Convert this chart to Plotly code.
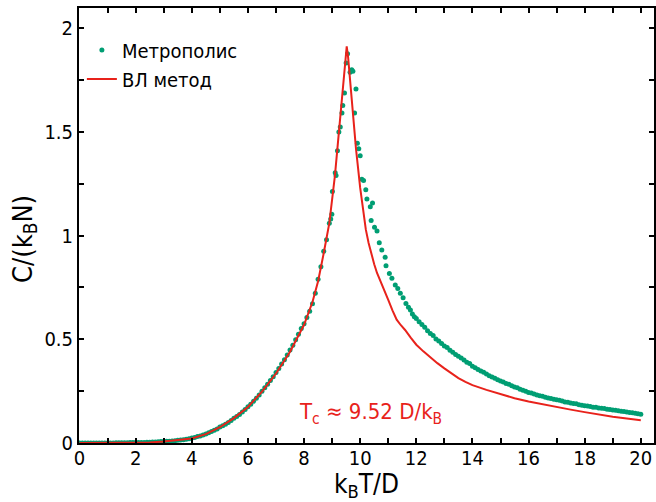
import plotly.graph_objects as go

# ВЛ метод (red line)
vl_T = [0, 1, 2, 2.5, 3, 3.5, 4, 4.5, 5, 5.5, 6, 6.5, 7, 7.5, 8, 8.3, 8.5, 8.7, 8.9,
        9.1, 9.25, 9.4, 9.47, 9.52, 9.57, 9.65, 9.75, 9.85, 10.0, 10.1, 10.2, 10.3,
        10.4, 10.5, 10.6, 10.8, 11.0, 11.15, 11.3, 11.45, 11.6, 11.8, 12.0, 12.25,
        12.5, 12.75, 13.0, 13.25, 13.5, 13.75, 14.0, 14.5, 15.0, 15.5, 16.0,
        16.5, 17.0, 17.5, 18.0, 18.5, 19.0, 19.5, 20.0]
vl_C = [0.0, 0.0, 0.001, 0.003, 0.007, 0.013, 0.022, 0.043, 0.076, 0.12, 0.174, 0.248,
        0.335, 0.44, 0.57, 0.68, 0.78, 0.915, 1.06, 1.29, 1.52, 1.74, 1.85, 1.913, 1.86,
        1.73, 1.56, 1.42, 1.23, 1.12, 1.03, 0.965, 0.91, 0.862, 0.82, 0.75, 0.69, 0.64,
        0.595, 0.568, 0.545, 0.508, 0.474, 0.442, 0.413, 0.385, 0.36, 0.335, 0.313,
        0.295, 0.279, 0.256, 0.236, 0.216, 0.2, 0.186, 0.173, 0.161, 0.149, 0.137,
        0.127, 0.118, 0.11]

# Метрополис (green dots)
mc_T = [0.0, 0.1, 0.2, 0.3, 0.4, 0.5, 0.6, 0.7, 0.8, 0.9,
        1.0, 1.1, 1.2, 1.3, 1.4, 1.5, 1.6, 1.7, 1.8, 1.9,
        2.0, 2.1, 2.2, 2.3, 2.4, 2.5, 2.6, 2.7, 2.8, 2.9,
        3.0, 3.1, 3.2, 3.3, 3.4, 3.5, 3.6, 3.7, 3.8, 3.9,
        4.0, 4.1, 4.2, 4.3, 4.4, 4.5, 4.6, 4.7, 4.8, 4.9,
        5.0, 5.1, 5.2, 5.3, 5.4, 5.5, 5.6, 5.7, 5.8, 5.9,
        6.0, 6.1, 6.2, 6.3, 6.4, 6.5, 6.6, 6.7, 6.8, 6.9,
        7.0, 7.1, 7.2, 7.3, 7.4, 7.5, 7.6, 7.7, 7.8, 7.9,
        8.0, 8.1, 8.2, 8.3, 8.4, 8.5, 8.6, 8.7, 8.8, 8.9,
        8.95, 8.99, 9.01, 9.11, 9.14, 9.19, 9.24, 9.29, 9.35, 9.38,
        9.44, 9.50, 9.55, 9.64, 9.70, 9.74, 9.80, 9.85, 9.90, 9.95,
        10.0, 10.06, 10.12, 10.2, 10.24, 10.36, 10.39, 10.44, 10.51, 10.6,
        10.68, 10.77, 10.89, 10.92, 11.04, 11.13, 11.25, 11.34, 11.43, 11.53,
        11.63, 11.72, 11.79, 11.86, 11.93,
        12.0, 12.1, 12.2, 12.3, 12.4, 12.5, 12.6, 12.7, 12.8, 12.9,
        13.0, 13.1, 13.2, 13.3, 13.4, 13.5, 13.6, 13.7, 13.8, 13.9,
        14.0, 14.1, 14.2, 14.3, 14.4, 14.5, 14.6, 14.7, 14.8, 14.9,
        15.0, 15.1, 15.2, 15.3, 15.4, 15.5, 15.6, 15.7, 15.8, 15.9,
        16.0, 16.1, 16.2, 16.3, 16.4, 16.5, 16.6, 16.7, 16.8, 16.9,
        17.0, 17.1, 17.2, 17.3, 17.4, 17.5, 17.6, 17.7, 17.8, 17.9,
        18.0, 18.1, 18.2, 18.3, 18.4, 18.5, 18.6, 18.7, 18.8, 18.9,
        19.0, 19.1, 19.2, 19.3, 19.4, 19.5, 19.6, 19.7, 19.8, 19.9,
        20.0]
mc_C = [0.000, 0.000, 0.000, 0.000, 0.000, 0.000, 0.000, 0.000, 0.000, 0.000,
        0.000, 0.000, 0.000, 0.001, 0.001, 0.001, 0.001, 0.001, 0.002, 0.002,
        0.002, 0.003, 0.003, 0.003, 0.004, 0.004, 0.005, 0.005, 0.006, 0.007,
        0.007, 0.008, 0.009, 0.010, 0.011, 0.013, 0.015, 0.016, 0.018, 0.021,
        0.024, 0.027, 0.031, 0.034, 0.039, 0.044, 0.049, 0.055, 0.061, 0.068,
        0.077, 0.083, 0.091, 0.099, 0.108, 0.119, 0.128, 0.138, 0.150, 0.161,
        0.175, 0.187, 0.201, 0.216, 0.232, 0.249, 0.266, 0.283, 0.301, 0.320,
        0.340, 0.359, 0.381, 0.402, 0.424, 0.449, 0.472, 0.498, 0.525, 0.552,
        0.575, 0.605, 0.635, 0.672, 0.722, 0.790, 0.850, 0.925, 0.980, 1.060,
        1.080, 1.103, 1.213, 1.304, 1.290, 1.409, 1.500, 1.524, 1.591, 1.628,
        1.688, 1.833, 1.877, 1.788, 1.800, 1.793, 1.591, 1.707, 1.446, 1.419,
        1.385, 1.272, 1.266, 1.221, 1.177, 1.140, 1.073, 1.157, 1.040, 1.023,
        0.966, 0.931, 0.896, 0.855, 0.818, 0.794, 0.762, 0.745, 0.722, 0.700,
        0.673, 0.655, 0.641, 0.622, 0.609,
        0.600, 0.585, 0.571, 0.558, 0.541, 0.528, 0.518, 0.502, 0.492, 0.480,
        0.468, 0.460, 0.447, 0.438, 0.427, 0.418, 0.410, 0.400, 0.390, 0.384,
        0.370, 0.363, 0.355, 0.347, 0.341, 0.333, 0.324, 0.318, 0.312, 0.305,
        0.299, 0.294, 0.287, 0.283, 0.276, 0.270, 0.266, 0.259, 0.255, 0.250,
        0.244, 0.241, 0.236, 0.232, 0.228, 0.226, 0.221, 0.217, 0.215, 0.211,
        0.208, 0.206, 0.202, 0.198, 0.197, 0.193, 0.190, 0.189, 0.185, 0.182,
        0.180, 0.179, 0.176, 0.173, 0.172, 0.169, 0.167, 0.166, 0.163, 0.161,
        0.159, 0.158, 0.155, 0.153, 0.152, 0.149, 0.147, 0.146, 0.143, 0.141,
        0.139]

x_ticks = [0, 2, 4, 6, 8, 10, 12, 14, 16, 18, 20]
y_ticks = [0, 0.5, 1, 1.5, 2]
y_tick_text = ["0", "0.5", "1", "1.5", "2"]

GREEN = "#009E73"
RED = "#E8221B"
FONT = "DejaVu Sans Condensed, DejaVu Sans, sans-serif"

fig = go.Figure()
fig.add_trace(go.Scatter(
    x=mc_T, y=mc_C, mode="markers", name="Метрополис",
    marker=dict(color=GREEN, size=5, line=dict(width=0)),
))
fig.add_trace(go.Scatter(
    x=vl_T, y=vl_C, mode="lines", name="ВЛ метод",
    line=dict(color=RED, width=2),
))

axis_common = dict(
    showline=True, linecolor="black", linewidth=2, mirror="ticks",
    ticks="inside", ticklen=5, tickwidth=1.5, tickcolor="black",
    showgrid=False, zeroline=False, automargin=False,
    tickfont=dict(family=FONT, size=20, color="black"),
)

fig.update_xaxes(
    range=[-0.02, 20.47], tickvals=x_ticks,
    minor=dict(ticks="inside", dtick=1, tick0=0, ticklen=5, tickwidth=1.5, tickcolor="black"),
    ticklabelstandoff=-4,
    **axis_common,
)
fig.update_yaxes(
    range=[0, 2.098], tickvals=y_ticks, ticktext=y_tick_text,
    minor=dict(ticks="inside", dtick=0.25, tick0=0, ticklen=5, tickwidth=1.5, tickcolor="black"),
    **axis_common,
)

# axis titles as annotations for exact placement
fig.add_annotation(
    x=0.5, y=-0.097, xref="paper", yref="paper", showarrow=False,
    xanchor="center", yanchor="middle", borderpad=0,
    text="k<sub>B</sub>T/D", font=dict(family=FONT, size=26, color="black"),
)
fig.add_annotation(
    x=-0.095, y=0.47, xref="paper", yref="paper", showarrow=False,
    xanchor="center", yanchor="middle", textangle=-90, borderpad=0,
    text="C/(k<sub>B</sub>N)", font=dict(family=FONT, size=27, color="black"),
)

fig.add_annotation(
    x=10.36, y=0.143, xref="x", yref="y", showarrow=False,
    text="T<sub>c</sub> ≈ 9.52 D/k<sub>B</sub>",
    font=dict(family=FONT, size=22, color=RED),
)

fig.update_layout(
    width=656, height=502,
    margin=dict(l=79, r=2, t=8, b=59),
    paper_bgcolor="white", plot_bgcolor="white",
    font=dict(family=FONT, color="black"),
    legend=dict(x=0.005, y=0.948, xanchor="left", yanchor="top",
                bgcolor="rgba(0,0,0,0)", font=dict(family=FONT, size=20, color="black"),
                itemwidth=30, tracegroupgap=0),
    showlegend=True,
)

fig.write_html("out.html")
